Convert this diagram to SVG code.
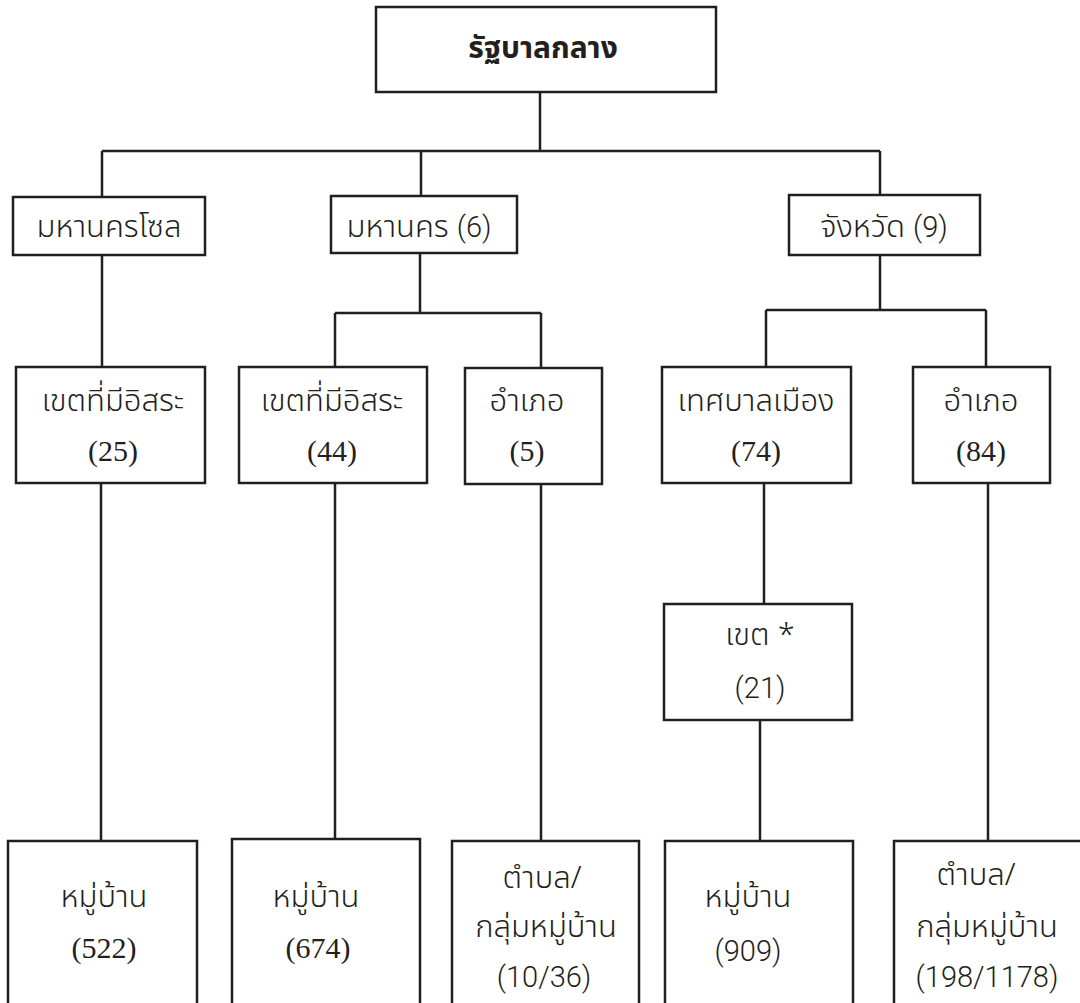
<svg xmlns="http://www.w3.org/2000/svg" width="1080" height="1003" viewBox="0 0 1080 1003">
<style>
.box{fill:#ffffff;stroke:#231f20;stroke-width:2.5}
.ln{fill:none;stroke:#231f20;stroke-width:2.5}
.t{font-family:"Noto Sans Thai","Noto Sans","DejaVu Sans",sans-serif;font-size:31px;font-weight:300;fill:#231f20;text-anchor:middle}
.ts{font-family:"Liberation Serif","Noto Sans Thai",serif;font-size:30px;fill:#231f20;text-anchor:middle}
.tn{font-family:Roboto,"Liberation Sans","Noto Sans Thai",sans-serif;font-size:29px;font-weight:300;fill:#231f20;text-anchor:middle}
.num{font-family:Roboto,"Liberation Sans",sans-serif;font-size:29px;font-weight:300}
.title{font-family:"Noto Sans Thai","Noto Sans","DejaVu Sans",sans-serif;font-size:30px;font-weight:bold;fill:#231f20;text-anchor:middle}
</style>
<rect width="1080" height="1003" fill="#ffffff"/>
<g id="connectors">
<path class="ln" d="M540,92 V151 M102,151 H880 M102,151 V197 M421,151 V196 M880,151 V195"/>
<path class="ln" d="M102,255 V367"/>
<path class="ln" d="M420,253 V313 M335,313 H541 M335,313 V367 M541,313 V368"/>
<path class="ln" d="M880,255 V310 M766,310 H986 M766,310 V367 M986,310 V367"/>
<path class="ln" d="M101,483 V841 M335,483 V839 M541,484 V841 M764,483 V604 M760,720 V841 M988,483 V841"/>
</g>
<g id="central">
<rect class="box" x="376" y="7" width="340" height="85"/>
<text class="title" x="543" y="58">รัฐบาลกลาง</text>
</g>
<g id="seoul">
<rect class="box" x="13" y="197" width="192" height="58"/>
<text class="t" x="109" y="237">มหานครโซล</text>
</g>
<g id="metro">
<rect class="box" x="331" y="196" width="186" height="57"/>
<text class="t" x="419" y="237">มหานคร <tspan class="num">(6)</tspan></text>
</g>
<g id="province">
<rect class="box" x="789" y="195" width="191" height="60"/>
<text class="t" x="884" y="237">จังหวัด <tspan class="num">(9)</tspan></text>
</g>
<g id="seoul-districts">
<rect class="box" x="16" y="367" width="189" height="116"/>
<text class="t" x="113" y="411">เขตที่มีอิสระ</text>
<text class="ts" x="113" y="461">(25)</text>
</g>
<g id="metro-districts">
<rect class="box" x="239" y="367" width="188" height="116"/>
<text class="t" x="332" y="411">เขตที่มีอิสระ</text>
<text class="ts" x="332" y="461">(44)</text>
</g>
<g id="metro-counties">
<rect class="box" x="465" y="368" width="137" height="116"/>
<text class="t" x="527" y="411">อำเภอ</text>
<text class="ts" x="527" y="461">(5)</text>
</g>
<g id="cities">
<rect class="box" x="662" y="367" width="189" height="116"/>
<text class="t" x="756" y="411">เทศบาลเมือง</text>
<text class="ts" x="756" y="461">(74)</text>
</g>
<g id="counties">
<rect class="box" x="913" y="367" width="137" height="116"/>
<text class="t" x="981" y="411">อำเภอ</text>
<text class="ts" x="981" y="461">(84)</text>
</g>
<g id="city-districts">
<rect class="box" x="664" y="604" width="188" height="116"/>
<text class="t" x="760" y="645">เขต  *</text>
<text class="tn" x="760" y="698">(21)</text>
</g>
<g id="villages-seoul">
<rect class="box" x="8" y="841" width="189" height="200"/>
<text class="t" x="104" y="907">หมู่บ้าน</text>
<text class="ts" x="104" y="958">(522)</text>
</g>
<g id="villages-metro">
<rect class="box" x="232" y="839" width="188" height="200"/>
<text class="t" x="316" y="907">หมู่บ้าน</text>
<text class="ts" x="318" y="958">(674)</text>
</g>
<g id="townships-metro">
<rect class="box" x="452" y="841" width="187" height="200"/>
<text class="t" x="542" y="888">ตำบล/</text>
<text class="t" x="546" y="937">กลุ่มหมู่บ้าน</text>
<text class="tn" x="544" y="987">(10/36)</text>
</g>
<g id="villages-city">
<rect class="box" x="665" y="841" width="188" height="200"/>
<text class="t" x="748" y="907">หมู่บ้าน</text>
<text class="tn" x="748" y="961">(909)</text>
</g>
<g id="townships-county">
<rect class="box" x="894" y="841" width="220" height="200"/>
<text class="t" x="976" y="885">ตำบล/</text>
<text class="t" x="987" y="937">กลุ่มหมู่บ้าน</text>
<text class="tn" x="987" y="987">(198/1178)</text>
</g>
</svg>
